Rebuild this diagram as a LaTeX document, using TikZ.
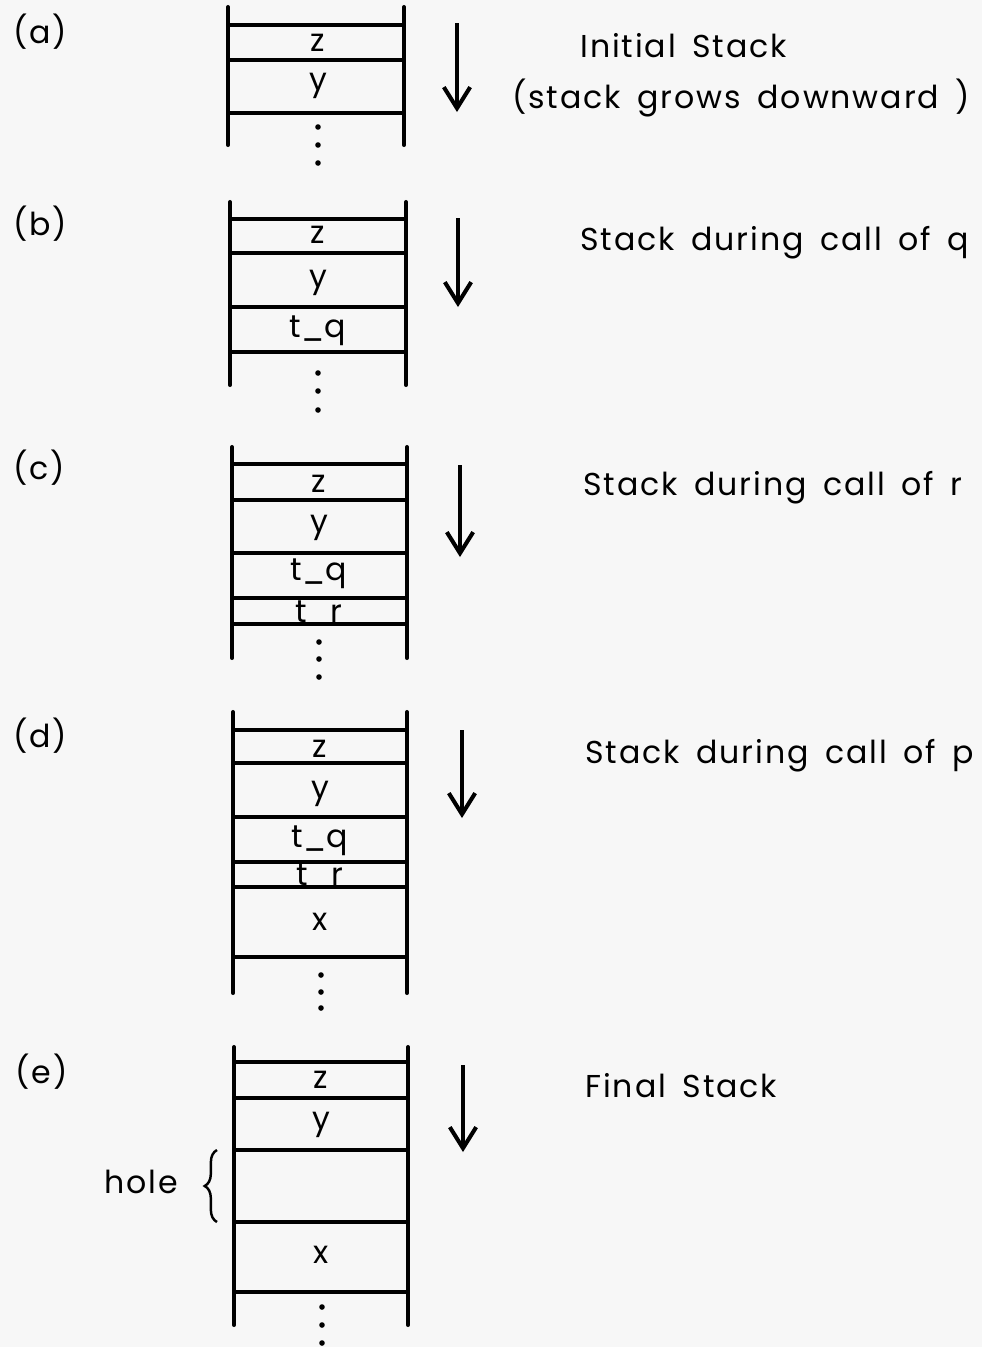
\documentclass[tikz,border=0pt]{standalone}
\usepackage{fontspec}
\setmainfont[LetterSpace=6, WordSpace=1.6]{Poppins}
\newfontfamily\slotfont{Poppins}
\usetikzlibrary{arrows.meta,decorations.pathreplacing}

\begin{document}
\begin{tikzpicture}[x=0.02cm, y=-0.02cm,
    % Styles for the stack drawings
    wall/.style={line width=2.3pt, line cap=round},
    slot/.style={line width=2.3pt},
    entry/.style={font=\slotfont\fontsize{18}{21}\selectfont, anchor=base, inner sep=0pt},
    caption/.style={font=\fontsize{18}{21}\selectfont, anchor=base west, inner sep=0pt},
    panel/.style={font=\fontsize{18}{21}\selectfont, anchor=base west, inner sep=0pt},
    growth/.style={line width=2.3pt, -{Straight Barb[length=12pt, width=15pt, line width=2.3pt]}},
    more/.style={fill=black}
]

% Page (scan background)
\useasboundingbox [fill=black!3] (0,0) rectangle (982,1347);

% Panel (a): initial stack
\draw [wall] (228,7) -- (228,145) (404,7) -- (404,145);
\foreach \y in {25, 60, 113} {
    \draw [slot] (228,\y) -- (404,\y);
}
\node [entry] (za) at (318,51) {z};
\node [entry] (ya) at (318,90) {y};
\foreach \y in {127, 145, 163} {
    \fill [more] (318,\y) circle (2.8);
}
\coordinate (a1) at (457,23);
\coordinate (a2) at (457,112);
\draw [growth] (a1) -- (a2);
\node [panel] (la) at (13,43) {(a)};
\node [caption] (ca) at (580,57) {Initial Stack};
\node [caption] (cb) at (512,108) {(stack grows downward )};

% Panel (b): during call of q
\draw [wall] (230,202) -- (230,385) (406,202) -- (406,385);
\foreach \y in {219, 253, 307, 352} {
    \draw [slot] (230,\y) -- (406,\y);
}
\node [entry] (zb) at (318,243) {z};
\node [entry] (yb) at (318,287) {y};
\node [entry] (tqb) at (318,337) {t\_q};
\foreach \y in {373, 391, 410} {
    \fill [more] (318,\y) circle (2.8);
}
\coordinate (b1) at (458,218);
\coordinate (b2) at (458,307);
\draw [growth] (b1) -- (b2);
\node [panel] (lb) at (13,235) {(b)};
\node [caption] (cq) at (580,250) {Stack during call of q};

% Panel (c): during call of r
\draw [wall] (232,447) -- (232,658) (407,447) -- (407,658);
\foreach \y in {464, 500, 553, 598, 624} {
    \draw [slot] (232,\y) -- (407,\y);
}
\node [entry] (zc) at (319,492) {z};
\node [entry] (yc) at (319,532) {y};
\node [entry] (tqc) at (319,580) {t\_q};
\node [entry] (trc) at (319,622) {t\_r};
\foreach \y in {642, 659, 677} {
    \fill [more] (319,\y) circle (2.8);
}
\coordinate (c1) at (460,465);
\coordinate (c2) at (460,557);
\draw [growth] (c1) -- (c2);
\node [panel] (lc) at (13,479) {(c)};
\node [caption] (cr) at (583,495) {Stack during call of r};

% Panel (d): during call of p
\draw [wall] (233,712) -- (233,993) (407,712) -- (407,993);
\foreach \y in {730, 763, 817, 862, 887, 957} {
    \draw [slot] (233,\y) -- (407,\y);
}
\node [entry] (zd) at (320,757) {z};
\node [entry] (yd) at (320,798) {y};
\node [entry] (tqd) at (320,847) {t\_q};
\node [entry] (trd) at (320,885) {t\_r};
\node [entry] (xd) at (320,930) {x};
\foreach \y in {975, 992, 1008} {
    \fill [more] (321,\y) circle (2.8);
}
\coordinate (d1) at (462,730);
\coordinate (d2) at (462,818);
\draw [growth] (d1) -- (d2);
\node [panel] (ld) at (13,747) {(d)};
\node [caption] (cp) at (585,763) {Stack during call of p};

% Panel (e): final stack with a hole
\draw [wall] (234,1047) -- (234,1325) (408,1047) -- (408,1325);
\foreach \y in {1062, 1098, 1150, 1222, 1292} {
    \draw [slot] (234,\y) -- (408,\y);
}
\node [entry] (ze) at (321,1088) {z};
\node [entry] (ye) at (321,1129) {y};
\node [entry] (xe) at (321,1263) {x};
\foreach \y in {1307, 1325, 1343} {
    \fill [more] (322,\y) circle (2.8);
}
\coordinate (e1) at (463,1065);
\coordinate (e2) at (463,1152);
\draw [growth] (e1) -- (e2);
\coordinate (h1) at (217,1222);
\coordinate (h2) at (217,1150);
\draw [line width=1.4pt, decorate, decoration={brace, amplitude=7pt}] (h1) -- (h2);
\node [caption, anchor=base east] (hole) at (178,1193) {hole};
\node [panel] (le) at (15,1083) {(e)};
\node [caption] (cf) at (585,1097) {Final Stack};

\end{tikzpicture}
\end{document}
